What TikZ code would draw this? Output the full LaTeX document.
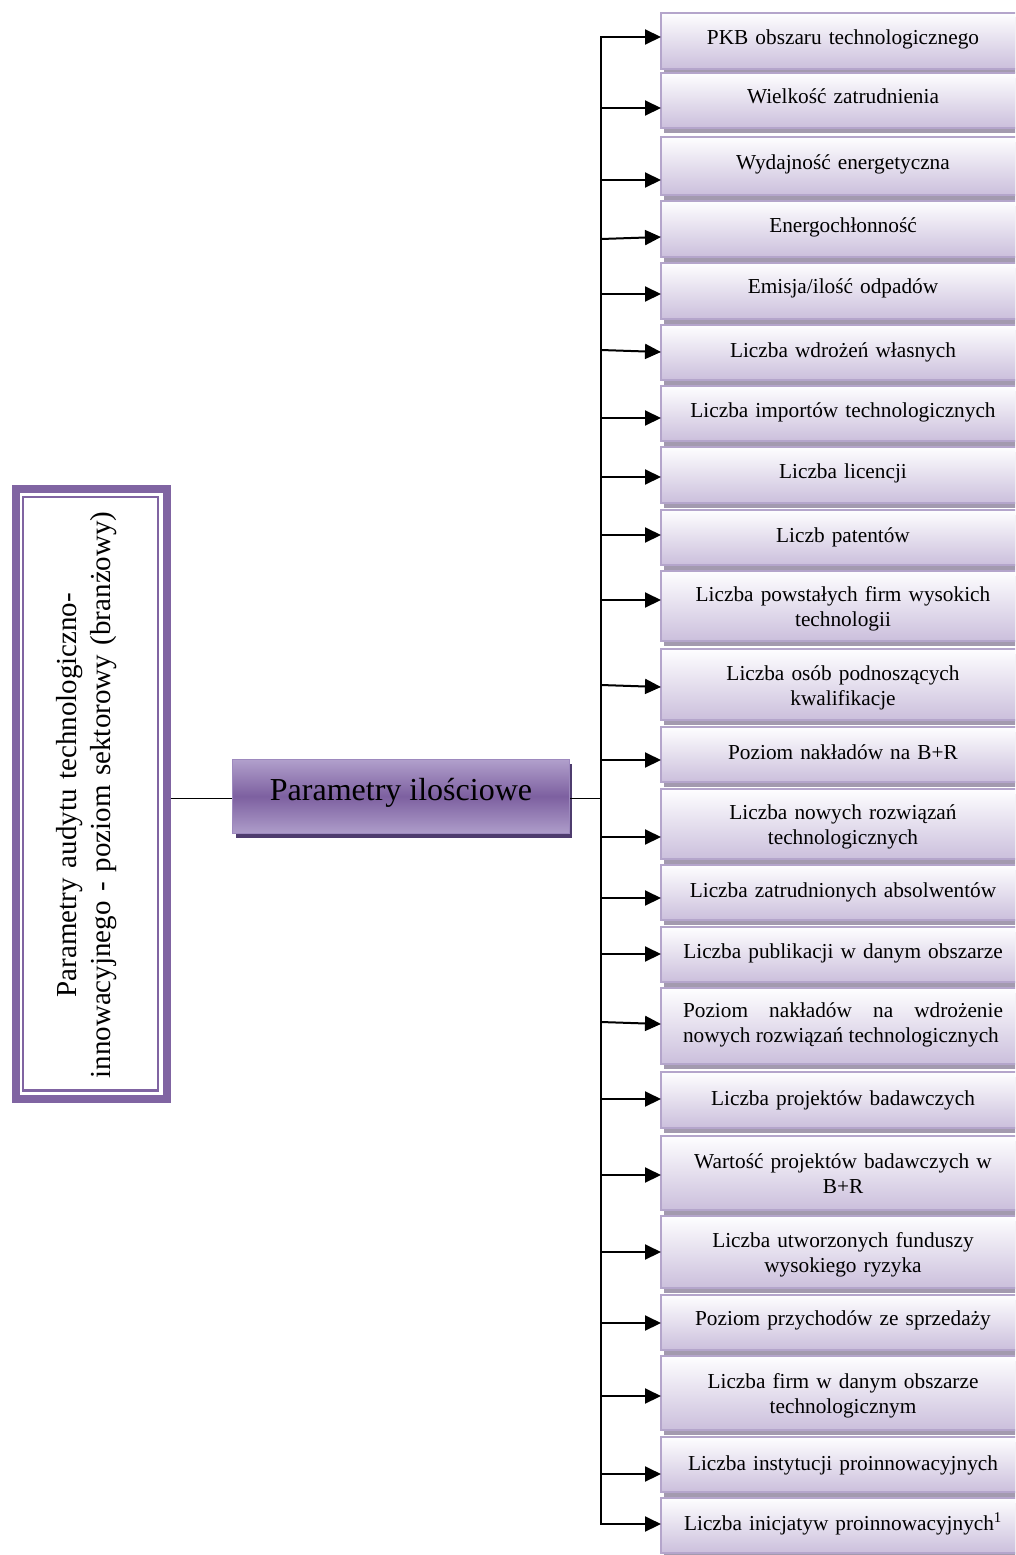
\documentclass[tikz,border=0pt]{standalone}
\usepackage{fontspec}
\setmainfont{Liberation Serif}
\usetikzlibrary{arrows.meta,shadows}

\definecolor{auditpurple}{HTML}{8064A2}
\definecolor{quanttop}{HTML}{B1A0CC}
\definecolor{quantmid}{HTML}{7D60A0}
\definecolor{quantbot}{HTML}{AE9DCA}
\definecolor{quantedge}{HTML}{9D89BE}
\definecolor{quantshadow}{HTML}{4E3C6E}
\definecolor{itemtop}{HTML}{FEFEFF}
\definecolor{itembot}{HTML}{CBBFDC}
\definecolor{itemedge}{HTML}{B4A5CB}
\definecolor{itemshadow}{HTML}{A39AAF}

\begin{document}
\begin{tikzpicture}[x=1pt,y=-1pt,
  auditbox/.style={draw=auditpurple, line width=7.8pt, minimum width=151.1pt,
    minimum height=609.9pt, inner sep=0pt},
  audittext/.style={rotate=90, text width=600pt, align=center,
    font=\fontsize{29}{34}\selectfont},
  quantbox/.style={minimum width=336.6pt, minimum height=74pt, inner sep=0pt,
    top color=quanttop, bottom color=quantbot, middle color=quantmid,
    draw=quantedge, line width=1.5pt,
    drop shadow={shadow xshift=3pt, shadow yshift=-4.5pt, fill=quantshadow, opacity=1},
    font=\fontsize{32}{38}\selectfont, text height=22pt, text depth=13pt},
  itembox/.style={minimum width=364pt, minimum height=#1, inner sep=0pt, outer sep=0pt,
    anchor=north west, top color=itemtop, bottom color=itembot,
    draw=itemedge, line width=1.5pt,
    drop shadow={shadow xshift=3pt, shadow yshift=-4.5pt, fill=itemshadow, opacity=1}},
  itemtext/.style={anchor=base, text width=340pt, align=center, inner sep=0pt,
    font=\fontsize{21.3}{25}\selectfont},
  itemjust/.style={anchor=base, text width=320pt, align=justify, inner sep=0pt,
    font=\fontsize{21.3}{25}\selectfont},
  link/.style={line width=1.3pt, black},
  barline/.style={line width=2pt, black, line cap=rect},
  arr/.style={line width=2pt, black, -{Triangle[length=16pt, width=15pt]}}
]
\useasboundingbox (0,0) rectangle (1015,1555);
\clip (0,0) rectangle (1015,1555);
\fill[white] (0,0) rectangle (1015,1555);

% left frame: thick outer band plus a thin inner rule, with its vertical title
\node[auditbox] (audit) at (91.15,793.85) {};
\draw[auditpurple, line width=2.3pt]
  ([shift={(11.3,12.2)}]audit.north west) rectangle ([shift={(-12.6,-12.2)}]audit.south east);
\node[audittext] (auditlabel) at (87,795)
  {Parametry audytu technologiczno-\\innowacyjnego - poziom sektorowy (branżowy)};

% central node
\node[quantbox] (quant) at (401,796.3) {Parametry ilościowe};

% the list of quantitative parameters
\foreach \n/\t/\b/\bl/\ys/\yt/\st/\txt in {
  1/13/69/45/37/37/itemtext/{PKB obszaru technologicznego},
  2/73/128/103/108/108/itemtext/{Wielkość zatrudnienia},
  3/137/195/169/180/180/itemtext/{Wydajność energetyczna},
  4/201/257/232/239/237/itemtext/{Energochłonność},
  5/263/319/293/294/294/itemtext/{Emisja/ilość odpadów},
  6/325/380/357/350/352/itemtext/{Liczba wdrożeń własnych},
  7/386/441/417/418/418/itemtext/{Liczba importów technologicznych},
  8/447/503/478/477/477/itemtext/{Liczba licencji},
  9/510/565/542/535/535/itemtext/{Liczb patentów},
  10/571/641/601/600/600/itemtext/{Liczba powstałych firm wysokich\\technologii},
  11/649/720/680/685/687/itemtext/{Liczba osób podnoszących\\kwalifikacje},
  12/727/782/759/760/760/itemtext/{Poziom nakładów na B+R},
  13/789/859/819/837/837/itemtext/{Liczba nowych rozwiązań\\technologicznych},
  14/865/920/897/898/898/itemtext/{Liczba zatrudnionych absolwentów},
  15/927/982/958/954/954/itemtext/{Liczba publikacji w danym obszarze},
  16/988/1064/1017/1022/1024/itemjust/{Poziom nakładów na wdrożenie\linebreak nowych rozwiązań technologicznych},
  17/1072/1128/1105/1099/1099/itemtext/{Liczba projektów badawczych},
  18/1136/1210/1168/1175/1175/itemtext/{Wartość projektów badawczych w\\B+R},
  19/1216/1288/1247/1252/1252/itemtext/{Liczba utworzonych funduszy\\wysokiego ryzyka},
  20/1295/1350/1325/1323/1323/itemtext/{Poziom przychodów ze sprzedaży},
  21/1356/1430/1388/1396/1396/itemtext/{Liczba firm w danym obszarze\\technologicznym},
  22/1437/1492/1470/1474/1474/itemtext/{Liczba instytucji proinnowacyjnych},
  23/1498/1553/1530/1524/1524/itemtext/{Liczba inicjatyw proinnowacyjnych\textsuperscript{1}}
}{
  \pgfmathsetmacro{\h}{\b-\t}
  \node[itembox=\h pt] (box\n) at (661,\t) {};
  \node[\st] (label\n) at (843,\bl) {\txt};
  \coordinate (s\n) at (601,\ys);
  \coordinate (t\n) at (661,\yt);
  \draw[arr] (s\n) -- (t\n -| box\n.west);
}

% trunk and feeders
\coordinate (junction) at (601,798.5);
\draw[barline] (s1) -- (s23);
\draw[link] (audit.east |- junction) -- (quant.west |- junction);
\draw[link] (quant.east |- junction) -- (junction);
\end{tikzpicture}
\end{document}
